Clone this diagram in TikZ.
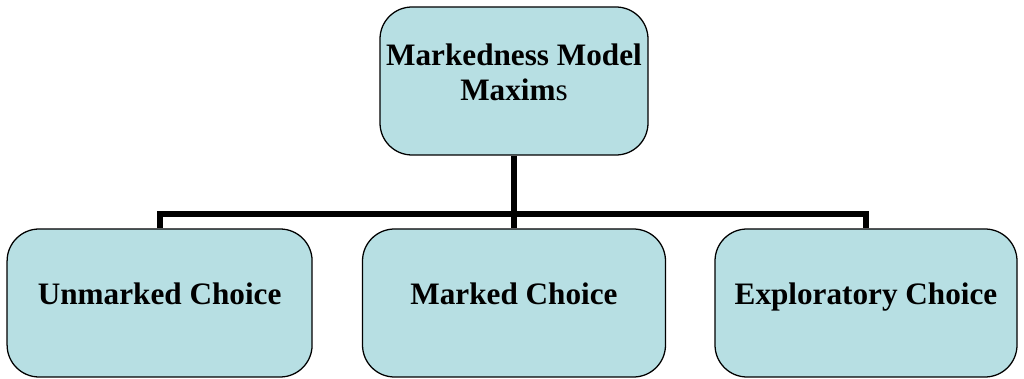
\documentclass[tikz,border=0pt]{standalone}
\usepackage{fontspec}
\setmainfont{Liberation Serif}
\usetikzlibrary{positioning}
\definecolor{kastenblau}{RGB}{183,223,227}
\tikzset{
    kasten/.style={rectangle, rounded corners=0.8cm, draw, line width=0.9pt,
        fill=kastenblau, minimum height=3.7cm, align=center,
        font=\fontsize{22.2}{24.9}\selectfont\bfseries, text depth=0.45cm},
    kabel/.style={line width=4.3pt, line join=miter}
}
\begin{document}
\begin{tikzpicture}
        \useasboundingbox (0,0) rectangle (25.6,-9.475);
        % Kaesten
        \node[kasten, minimum width=6.7cm] (maxime) at (12.85,-2.025) {Markedness Model\\Maxim{\mdseries s}};
        \node[kasten, minimum width=7.625cm] (unmarkiert) at (3.99,-7.575) {Unmarked Choice};
        \node[kasten, minimum width=7.575cm] (markiert) at (12.85,-7.575) {Marked Choice};
        \node[kasten, minimum width=7.55cm] (explorativ) at (21.65,-7.575) {Exploratory Choice};
        % Verbindungen
        \coordinate (knoten) at (12.85,-5.35);
        \draw[kabel] (maxime.south) -- (markiert.north);
        \draw[kabel] (unmarkiert.north) |- (knoten) -| (explorativ.north);
    \end{tikzpicture}
\end{document}
